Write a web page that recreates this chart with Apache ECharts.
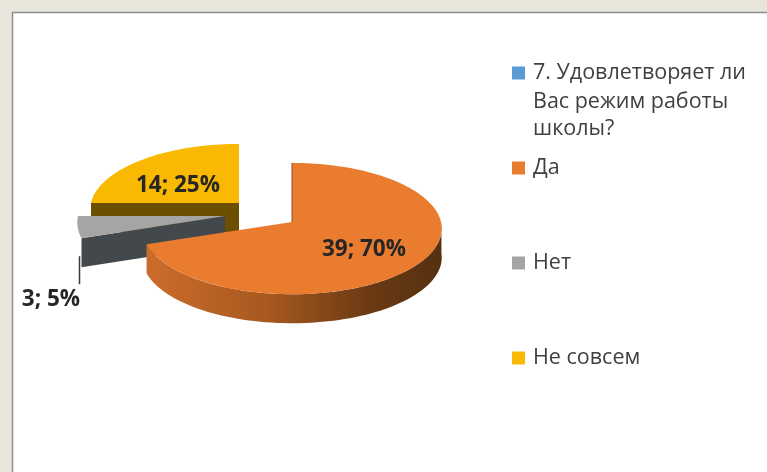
<!DOCTYPE html>
<html>
<head>
<meta charset="utf-8">
<style>
  html, body { margin: 0; padding: 0; background: #fff; }
  #chart { width: 767px; height: 472px; }
</style>
<script src="https://cdn.jsdelivr.net/npm/echarts@6/dist/echarts.min.js"></script>
</head>
<body>
<div id="chart"></div>
<script>
const questionLines = ["7. Удовлетворяет ли", "Вас режим работы", "школы?"];
const categories = ["Да", "Нет", "Не совсем"];
const values = [39, 3, 14];
const faceColors = ["#ea7c30", "#a5a5a5", "#f9b900"];
const wallColors = [null, "#43484c", "#6c5000"];
const questionColor = "#5b9bd5";

// 3D look of the pie: centre and radius of each exploded slice, tilt, perspective, wall height
const centers = [[292, 222], [225, 216], [239, 203]];
const radii = [149, 147, 148];
const TILT = 65;
const PERSP = 0.1;
const DEPTH = 29;
const labelPos = [[364, 250], [51, 300], [178, 186]];

const total = values.reduce((a, b) => a + b, 0);
const FONT = '"Open Sans", "Noto Sans", sans-serif';

// angle runs clockwise from 12 o'clock, same as the original chart
function project(i, deg, r = 1) {
  const a = (deg * Math.PI) / 180;
  const u = Math.sin(a) * r;
  const v = -Math.cos(a) * r;
  const s = 1 / (1 - PERSP * v);
  return [centers[i][0] + radii[i] * u * s, centers[i][1] + TILT * v * s];
}

function arc(i, from, to) {
  const pts = [];
  const n = Math.max(2, Math.ceil(Math.abs(to - from) / 2));
  for (let k = 0; k <= n; k++) pts.push(project(i, from + ((to - from) * k) / n));
  return pts;
}

const down = (pts) => pts.map((p) => [p[0], p[1] + DEPTH]);

function renderSlice(i) {
  const start = (values.slice(0, i).reduce((a, b) => a + b, 0) / total) * 360;
  const end = start + (values[i] / total) * 360;
  const apex = project(i, 0, 0);
  const startRim = project(i, start);
  const children = [];

  if (i === 0) {
    // outer wall, only the arc turned towards the viewer
    const edge = arc(i, 92, end);
    children.push({
      type: "polygon",
      shape: { points: edge.concat(down(edge).reverse()) },
      style: {
        fill: new echarts.graphic.LinearGradient(145, 0, 445, 0, [
          { offset: 0, color: "#cc6c2c" },
          { offset: 0.4, color: "#a8591f" },
          { offset: 0.75, color: "#6a3a14" },
          { offset: 1, color: "#55300f" },
        ], true),
      },
    });
  } else {
    // cut wall facing the viewer
    const cut = [apex, startRim];
    children.push({
      type: "polygon",
      shape: { points: cut.concat(down(cut).reverse()) },
      style: { fill: wallColors[i] },
    });
  }

  children.push({
    type: "polygon",
    shape: { points: [apex].concat(arc(i, start, end)) },
    style: { fill: faceColors[i] },
  });

  if (i === 0) {
    children.push({
      type: "polyline",
      shape: { points: [startRim, apex] },
      style: { stroke: "#8f4f1d", lineWidth: 1, fill: "none" },
    });
  }
  if (i === 1) {
    // leader line of the small slice
    const foot = down([startRim])[0];
    children.push({
      type: "polyline",
      shape: { points: [[foot[0] - 2, foot[1] - 11], [foot[0] - 2, foot[1] + 17]] },
      style: { stroke: "#3a3a3a", lineWidth: 1.5, fill: "none" },
    });
  }

  children.push({
    type: "text",
    style: {
      text: `${values[i]}; ${Math.round((values[i] / total) * 100)}%`,
      x: labelPos[i][0],
      y: labelPos[i][1],
      align: "center",
      verticalAlign: "middle",
      font: `bold 22.5px ${FONT}`,
      fill: "#262626",
    },
  });
  return { type: "group", children };
}

// orange goes last, it covers the walls of the other two
const drawOrder = [2, 1, 0];

const chart = echarts.init(document.getElementById("chart"), null, { renderer: "canvas" });
chart.setOption({
  animation: false,
  graphic: [
    { type: "rect", z: -10, shape: { x: 0, y: 0, width: 767, height: 472 }, style: { fill: "#e8e6db" } },
    {
      type: "rect",
      z: -9,
      shape: { x: 12.5, y: 12.5, width: 770, height: 470 },
      style: { fill: "#fff", stroke: "#8d8d8a", lineWidth: 1.5 },
    },
    ...questionLines.slice(1).map((line, k) => ({
      type: "text",
      z: 5,
      style: {
        text: line,
        x: 533,
        y: 102 + k * 27,
        verticalAlign: "middle",
        font: `21.5px ${FONT}`,
        fill: "#404040",
      },
    })),
  ],
  legend: {
    orient: "vertical",
    left: 507,
    top: 54,
    itemWidth: 13,
    itemHeight: 13,
    itemGap: 67,
    icon: "rect",
    selectedMode: false,
    data: [questionLines[0]].concat(categories),
    textStyle: { fontFamily: FONT, fontSize: 21.5, lineHeight: 28, color: "#404040", padding: [0, 0, 0, 3] },
  },
  series: [
    { type: "custom", name: questionLines[0], coordinateSystem: "none", itemStyle: { color: questionColor }, data: [] },
    ...drawOrder.map((i) => ({
      type: "custom",
      name: categories[i],
      coordinateSystem: "none",
      itemStyle: { color: faceColors[i] },
      data: [[values[i]]],
      renderItem: () => renderSlice(i),
    })),
  ],
});
</script>
</body>
</html>
